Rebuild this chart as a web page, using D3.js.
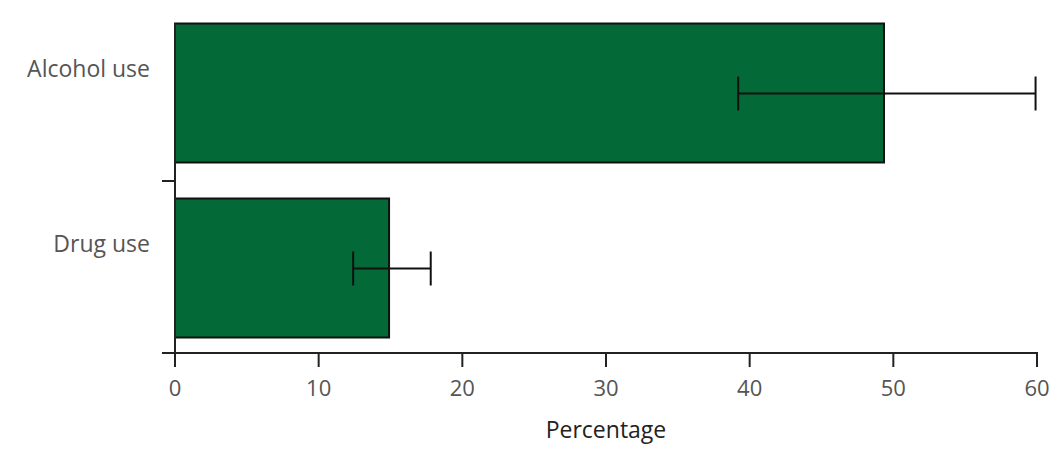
<!DOCTYPE html>
<html><head><meta charset="utf-8">
<script src="https://cdn.jsdelivr.net/npm/d3@7"></script>
<style>body{margin:0;background:#fff}</style>
</head><body>
<script>
const categories = ["Alcohol use", "Drug use"];
const values = [49.35, 14.9];
const lower = [39.2, 12.4];
const upper = [59.9, 17.8];
const xTicks = [0, 10, 20, 30, 40, 50, 60];
const xTitle = "Percentage";

const W = 1062, H = 470;
const svg = d3.select("body").append("svg").attr("width", W).attr("height", H);
const font = "'Open Sans', sans-serif";
const x = d3.scaleLinear().domain([0, 60]).range([175, 1037]);
const y = d3.scaleBand().domain(categories).range([6, 356]).paddingInner(0.2).paddingOuter(0.1);
const axisY = 353;

// bars
svg.selectAll("rect.bar").data(categories).join("rect")
  .attr("x", x(0)).attr("y", d => y(d))
  .attr("width", (d, i) => x(values[i]) - x(0))
  .attr("height", y.bandwidth() - 1)
  .attr("fill", "#026937").attr("stroke", "#111").attr("stroke-width", 2);

// error bars
const eb = svg.append("g").attr("stroke", "#111").attr("stroke-width", 2);
categories.forEach((c, i) => {
  const cy = y(c) + y.bandwidth() / 2;
  eb.append("line").attr("x1", x(lower[i])).attr("x2", x(upper[i])).attr("y1", cy).attr("y2", cy);
  eb.append("line").attr("x1", x(lower[i])).attr("x2", x(lower[i])).attr("y1", cy - 17).attr("y2", cy + 17);
  eb.append("line").attr("x1", x(upper[i])).attr("x2", x(upper[i])).attr("y1", cy - 17).attr("y2", cy + 17);
});

// axes
const ax = svg.append("g").attr("stroke", "#222").attr("stroke-width", 2);
ax.append("line").attr("x1", x(0)).attr("x2", x(0)).attr("y1", y(categories[0])).attr("y2", axisY + 14);
ax.append("line").attr("x1", x(0) - 13).attr("x2", x(60) + 1).attr("y1", axisY).attr("y2", axisY);
const sepY = y(categories[1]) - y.step() * y.paddingInner() / 2;
ax.append("line").attr("x1", x(0) - 13).attr("x2", x(0)).attr("y1", sepY).attr("y2", sepY);
xTicks.forEach(t => {
  ax.append("line").attr("x1", x(t)).attr("x2", x(t)).attr("y1", axisY).attr("y2", axisY + 14);
});
svg.selectAll("text.tick").data(xTicks).join("text")
  .attr("x", d => x(d)).attr("y", 396).attr("text-anchor", "middle")
  .attr("font-family", font).attr("font-size", 22).attr("fill", "#555").text(d => d);

svg.selectAll("text.cat").data(categories).join("text")
  .attr("x", 150).attr("y", d => y(d) + y.bandwidth() / 2 - 17)
  .attr("text-anchor", "end").attr("font-family", font).attr("font-size", 23).attr("fill", "#555").text(d => d);

svg.append("text").attr("x", (x(0) + x(60)) / 2).attr("y", 438).attr("text-anchor", "middle")
  .attr("font-family", font).attr("font-size", 23).attr("fill", "#222").text(xTitle);
</script>
</body></html>
